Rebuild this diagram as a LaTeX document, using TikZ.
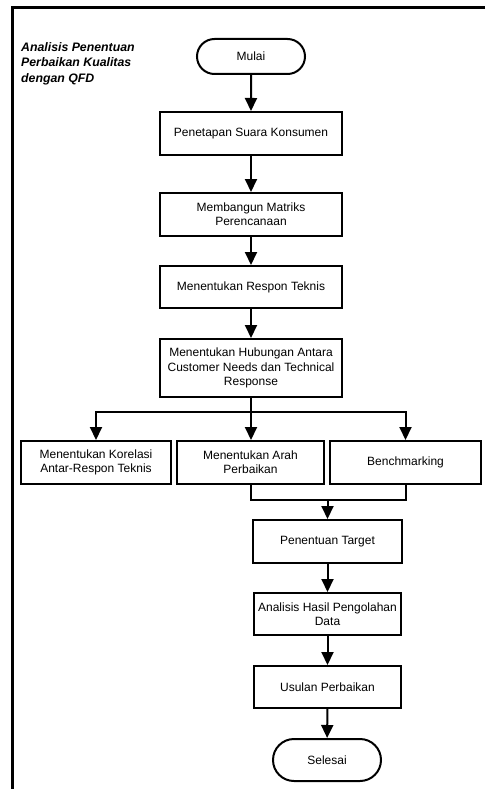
\documentclass[tikz,border=0pt]{standalone}
\usepackage{fontspec}
\setmainfont{Liberation Sans}
\usetikzlibrary{arrows.meta,shapes.misc}
\begin{document}
\begin{tikzpicture}[x=1pt,y=-1pt,
  box/.style={draw,line width=2pt,rectangle,align=center,inner sep=0pt,
    font=\fontsize{12}{14.4}\selectfont,minimum height=43pt},
  term/.style={draw,line width=2pt,rounded rectangle,align=center,inner sep=0pt,
    font=\fontsize{12}{14.4}\selectfont,minimum width=108pt},
  arr/.style={line width=2pt,-{Triangle[length=13pt,width=12pt]}},
  ln/.style={line width=2pt}]
\useasboundingbox (0,0) rectangle (485,789);
\draw[line width=2.2pt] (485,7.5) -- (12.5,7.5) -- (12.5,789);
\node[anchor=north west,align=left,font=\fontsize{12.3}{15.2}\selectfont\bfseries\itshape,inner sep=0pt] (title) at (21,42.5) {Analisis Penentuan\\Perbaikan Kualitas\\dengan QFD};
\node[term,minimum height=35pt] (mulai) at (251,56.5) {Mulai};
\node[box,minimum width=182pt] (n1) at (251,133.5) {Penetapan Suara Konsumen};
\node[box,minimum width=182pt] (n2) at (251,214.5) {Membangun Matriks\\Perencanaan};
\node[box,minimum width=182pt,minimum height=42pt] (n3) at (251,287) {Menentukan Respon Teknis};
\node[box,minimum width=182pt,minimum height=58pt] (n4) at (251,368) {Menentukan Hubungan Antara\\Customer Needs dan Technical\\Response};
\node[box,minimum width=150pt] (k1) at (96,462.5) {Menentukan Korelasi\\Antar-Respon Teknis};
\node[box,minimum width=147pt] (k2) at (250.5,462.5) {Menentukan Arah\\Perbaikan};
\node[box,minimum width=151pt] (k3) at (405.5,462.5) {Benchmarking};
\node[box,minimum width=149pt] (t) at (327.5,541.5) {Penentuan Target};
\node[box,minimum width=147pt,minimum height=42pt] (a) at (327.5,614) {Analisis Hasil Pengolahan\\Data};
\node[box,minimum width=147pt,minimum height=42pt] (u) at (327.5,687) {Usulan Perbaikan};
\node[term,minimum height=42pt] (s) at (327,760) {Selesai};
\coordinate (br) at (251,412);
\coordinate (mg) at (327.5,500);
\draw[arr] (mulai) -- (n1);
\draw[arr] (n1) -- (n2);
\draw[arr] (n2) -- (n3);
\draw[arr] (n3) -- (n4);
\draw[ln] (n4.south) -- (br);
\draw[arr] (br) -| (k1.north);
\draw[arr] (br) -- (k2.north -| br);
\draw[arr] (br) -| (k3.north);
\draw[ln] (k2.south -| br) |- (mg);
\draw[ln] (k3.south) |- (mg);
\draw[arr] (mg) -- (t.north);
\draw[arr] (t) -- (a);
\draw[arr] (a) -- (u);
\draw[arr] (u) -- (s);
\end{tikzpicture}
\end{document}
